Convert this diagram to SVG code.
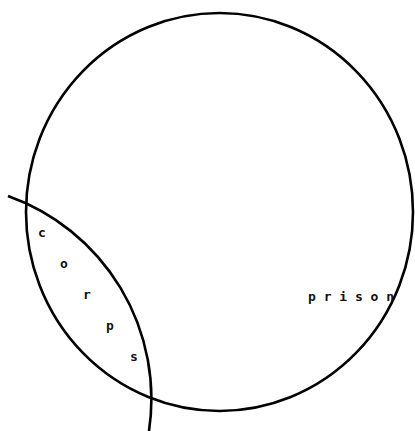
<svg xmlns="http://www.w3.org/2000/svg" width="415" height="431" viewBox="0 0 415 431">
<style>
.line{fill:none;stroke:#000;stroke-width:2.6}
.lbl{font-family:"DejaVu Sans Mono","Liberation Mono",monospace;font-size:13px;font-weight:bold;fill:#111}
</style>
<rect width="415" height="431" fill="#fff"/>
<g id="prison">
<ellipse class="line" cx="219.5" cy="212" rx="193.5" ry="199"/>
<text class="lbl" x="308" y="301" xml:space="preserve">p r i s o n</text>
</g>
<g id="corps">
<path class="line" d="M8,196 A215.5,215.5 0 0 1 149,431"/>
<g class="lbl" text-anchor="middle">
<text x="42" y="237">c</text>
<text x="64" y="268">o</text>
<text x="87" y="299">r</text>
<text x="110" y="330">p</text>
<text x="134" y="361">s</text>
</g>
</g>
<g id="connectors"/>
</svg>
